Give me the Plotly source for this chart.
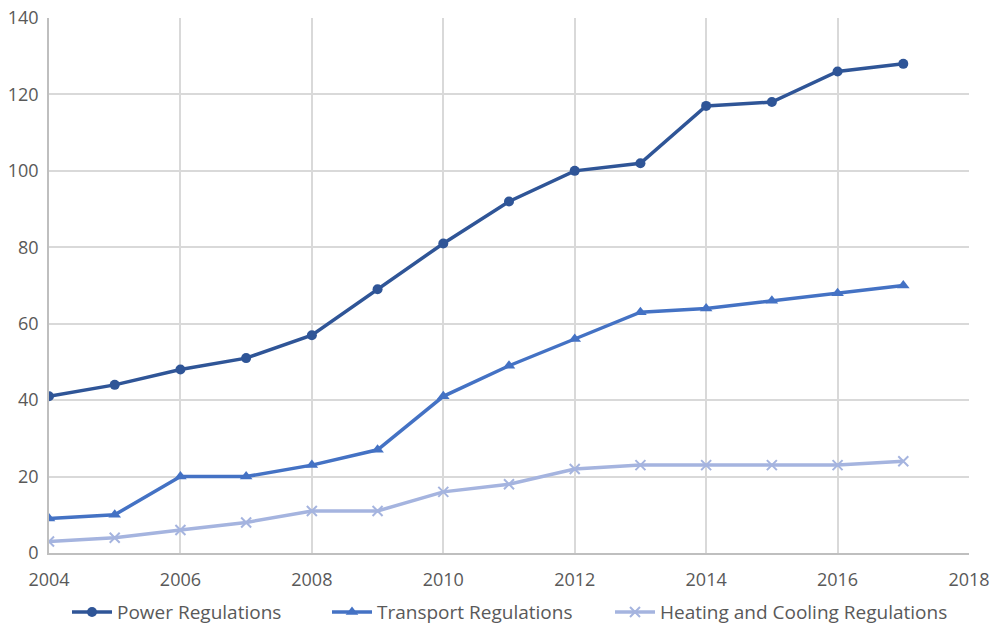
import plotly.graph_objects as go

years = list(range(2004, 2018))
power = [41, 44, 48, 51, 57, 69, 81, 92, 100, 102, 117, 118, 126, 128]
transport = [9, 10, 20, 20, 23, 27, 41, 49, 56, 63, 64, 66, 68, 70]
heating = [3, 4, 6, 8, 11, 11, 16, 18, 22, 23, 23, 23, 23, 24]

x_ticks = [2004, 2006, 2008, 2010, 2012, 2014, 2016, 2018]
y_ticks = [0, 20, 40, 60, 80, 100, 120, 140]

FONT = "Open Sans"
TEXT = "#595959"
W, H = 999, 626

fig = go.Figure()
fig.add_trace(go.Scatter(
    x=years, y=power, name="Power Regulations", mode="lines+markers",
    line=dict(color="#2F5597", width=3.5),
    marker=dict(symbol="circle", size=10, color="#2F5597"),
    legend="legend",
))
fig.add_trace(go.Scatter(
    x=years, y=transport, name="Transport Regulations", mode="lines+markers",
    line=dict(color="#4472C4", width=3.5),
    marker=dict(symbol="triangle-up", size=11, color="#4472C4"),
    legend="legend2",
))
fig.add_trace(go.Scatter(
    x=years, y=heating, name="Heating and Cooling Regulations", mode="lines+markers",
    line=dict(color="#A5B4DF", width=3.5),
    marker=dict(symbol="x-thin", size=10, color="#A5B4DF",
                line=dict(color="#A5B4DF", width=2)),
    legend="legend3",
))


def legend_at(px_left):
    # one legend box per series, anchored at its left pixel in the page
    return dict(
        orientation="h", x=px_left / W, xanchor="left", xref="container",
        y=0.022, yanchor="middle", yref="container",
        font=dict(family=FONT, size=19, color=TEXT),
        itemwidth=40, bgcolor="rgba(0,0,0,0)",
    )


fig.update_layout(
    width=W, height=H,
    margin=dict(l=49, r=30, t=18, b=73, autoexpand=False),
    paper_bgcolor="white", plot_bgcolor="white",
    font=dict(family=FONT, size=18, color=TEXT),
    showlegend=True,
    legend=legend_at(67),
    legend2=legend_at(327),
    legend3=legend_at(610),
)
fig.update_xaxes(
    range=[2004, 2018], tickvals=x_ticks, ticktext=[str(v) for v in x_ticks],
    showgrid=True, gridcolor="#D9D9D9", gridwidth=1.5,
    showline=True, linecolor="#BFBFBF", linewidth=1.5,
    zeroline=False, ticks="", ticklabelstandoff=10,
    tickfont=dict(size=18, color=TEXT),
)
fig.update_yaxes(
    range=[0, 140], tickvals=y_ticks,
    showgrid=True, gridcolor="#D9D9D9", gridwidth=1.5,
    showline=True, linecolor="#BFBFBF", linewidth=1.5,
    zeroline=False, ticks="", ticklabelstandoff=5,
    tickfont=dict(size=18, color=TEXT),
)

fig.write_html("out.html")
